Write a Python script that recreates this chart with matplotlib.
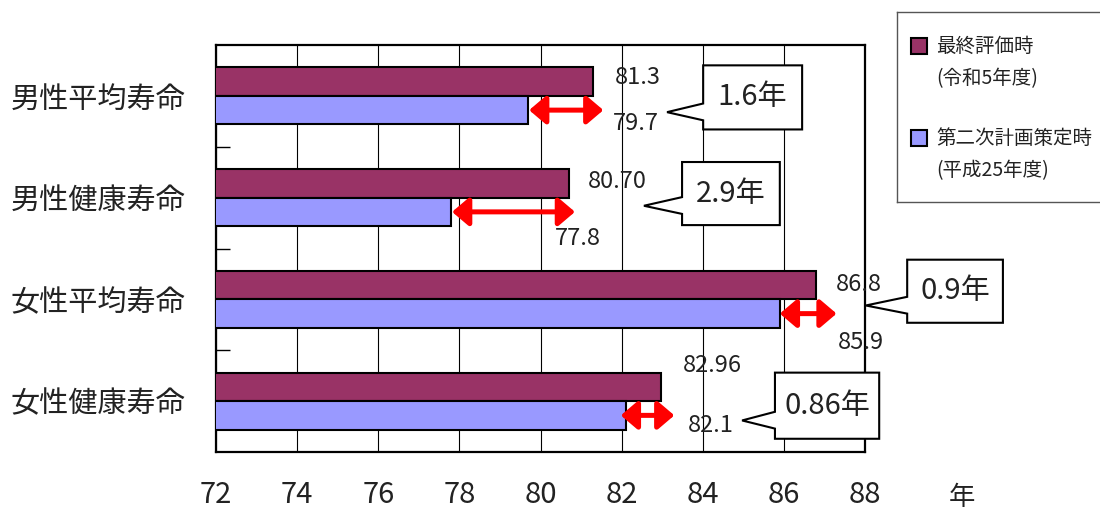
import matplotlib.pyplot as plt
from matplotlib.patches import Polygon, FancyArrowPatch, Rectangle
import numpy as np

plt.rcParams['font.family'] = ['Noto Sans CJK JP', 'DejaVu Sans']

# data
categories = ["男性平均寿命", "男性健康寿命", "女性平均寿命", "女性健康寿命"]
latest = [81.3, 80.70, 86.8, 82.96]      # 最終評価時 (令和5年度)
baseline = [79.7, 77.8, 85.9, 82.1]      # 第二次計画策定時 (平成25年度)
latest_text = ["81.3", "80.70", "86.8", "82.96"]
baseline_text = ["79.7", "77.8", "85.9", "82.1"]
diff_text = ["1.6年", "2.9年", "0.9年", "0.86年"]
legend_labels = [("最終評価時", "(令和5年度)"), ("第二次計画策定時", "(平成25年度)")]
x_ticks = [72, 74, 76, 78, 80, 82, 84, 86, 88]

# where the value labels sit (x left edge, y centre)
latest_pos = [(81.84, -0.18), (81.17, 0.84), (87.28, 1.85), (83.51, 2.65)]
baseline_pos = [(81.79, 0.27), (80.36, 1.40), (87.33, 2.42), (83.64, 3.24)]
# ends of the red arrows
arrow_start = [79.72, 77.82, 85.9, 81.98]
arrow_end = [81.55, 80.85, 87.3, 83.3]
# callout boxes: left, right, top, bottom, tip x, tip y
callouts = [(84.01, 86.45, -0.30, 0.33, 83.12, 0.16),
            (83.49, 85.90, 0.65, 1.27, 82.55, 1.08),
            (89.04, 91.40, 1.61, 2.23, 88.02, 2.06),
            (85.78, 88.35, 2.72, 3.37, 84.97, 3.19)]

maroon = "#993366"
lilac = "#9999FF"

fig = plt.figure(figsize=(11, 5.15), dpi=100)
ax = fig.add_axes([216/1100, 1-452/515, 649/1100, 407/515])

y = np.arange(len(categories))
bh = 0.28
ax.barh(y - bh/2, latest, height=bh, color=maroon, edgecolor="black", linewidth=1.5, zorder=3)
ax.barh(y + bh/2, baseline, height=bh, color=lilac, edgecolor="black", linewidth=1.5, zorder=3)

ax.set_xlim(72, 88)
ax.set_ylim(3.5, -0.5)
ax.set_xticks(x_ticks)
ax.set_yticks(y)
ax.set_yticklabels(categories)
ax.set_yticks([0.5, 1.5, 2.5], minor=True)
ax.tick_params(axis="x", length=0, pad=20, labelsize=21, labelcolor="#222222")
ax.tick_params(axis="y", which="major", length=0, pad=22, labelsize=21, labelcolor="#222222")
ax.tick_params(axis="y", which="minor", direction="in", length=10, width=1)
ax.grid(axis="x", color="black", linewidth=0.8)
ax.set_axisbelow(True)
for s in ax.spines.values():
    s.set_linewidth(1.6)

# value labels
for i in range(len(categories)):
    ax.text(latest_pos[i][0], latest_pos[i][1], latest_text[i], fontsize=17,
            ha="left", va="center", color="#222222", zorder=5, clip_on=False)
    ax.text(baseline_pos[i][0], baseline_pos[i][1], baseline_text[i], fontsize=17,
            ha="left", va="center", color="#222222", zorder=5, clip_on=False)

# red double arrows at the old-value bar
for i in range(len(categories)):
    arr = FancyArrowPatch((arrow_start[i], y[i] + bh/2), (arrow_end[i], y[i] + bh/2),
                          arrowstyle="<|-|>,head_length=10,head_width=8.5",
                          mutation_scale=1, color="red", linewidth=3.6,
                          shrinkA=0, shrinkB=0, zorder=6)
    ax.add_patch(arr)

# callout boxes with the difference
for i, (l, r, t, b, tx, ty) in enumerate(callouts):
    pts = [(l, t), (r, t), (r, b), (l, b), (l, ty + 0.08), (tx, ty), (l, ty - 0.085)]
    ax.add_patch(Polygon(pts, closed=True, facecolor="white", edgecolor="black",
                         linewidth=1.5, zorder=7, clip_on=False))
    ax.text((l + r)/2, (t + b)/2, diff_text[i], fontsize=21, ha="center", va="center",
            color="#222222", zorder=8, clip_on=False)

# unit
ax.text(1.149, -0.113, "年", transform=ax.transAxes, fontsize=19, ha="center", va="center",
        color="#222222")

# legend box drawn by hand
lax = fig.add_axes([897/1100, 1-202/515, 210/1100, 190/515])
lax.set_xlim(0, 210)
lax.set_ylim(190, 0)
lax.set_xticks([])
lax.set_yticks([])
for k in ["top", "bottom", "left"]:
    lax.spines[k].set_color("#555555")
    lax.spines[k].set_linewidth(1)
lax.spines["right"].set_visible(False)
for j, (c, (l1, l2)) in enumerate(zip([maroon, lilac], legend_labels)):
    y0 = 26 + j*92
    lax.add_patch(Rectangle((14, y0), 16, 16, facecolor=c, edgecolor="black", linewidth=1.5))
    lax.text(39, y0 + 8, l1, fontsize=14, ha="left", va="center", color="#222222")
    lax.text(39, y0 + 41, l2, fontsize=14, ha="left", va="center", color="#222222")

plt.savefig("out.png")
